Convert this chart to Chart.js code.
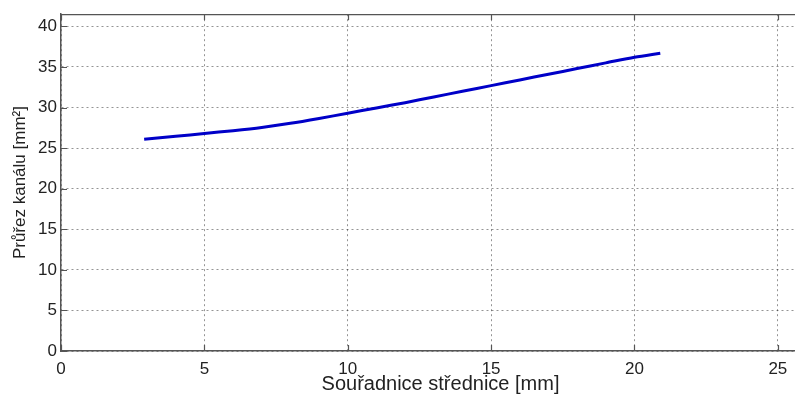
<!DOCTYPE html>
<html>
<head>
<meta charset="utf-8">
<script src="https://cdn.jsdelivr.net/npm/chart.js@4.4.1/dist/chart.umd.min.js"></script>
<style>
    html, body { margin: 0; padding: 0; background: #fff; overflow: hidden; }
    /* the axes box runs past the right edge of the picture, like in the original */
    #wrap { width: 795px; height: 396px; overflow: hidden; }
</style>
</head>
<body>
<div id="wrap"><canvas id="chart-canvas" width="820" height="396"></canvas></div>
<script>
// data
const souradnice = [2.9, 4, 5, 6, 7, 8, 9, 10, 11, 12, 13, 14, 15, 16, 17, 18, 19, 20, 20.9];
const prurez = [26.1, 26.45, 26.8, 27.15, 27.55, 28.05, 28.65, 29.3, 29.95, 30.6, 31.3, 32.0, 32.7, 33.4, 34.1, 34.8, 35.5, 36.2, 36.7];
const xTicks = [0, 5, 10, 15, 20, 25];
const yTicks = [0, 5, 10, 15, 20, 25, 30, 35, 40];

const font = "'Liberation Sans', Arial, sans-serif";

// top frame line + inward tick marks (matlab look)
const frameTicks = {
    id: "frameTicks",
    afterDraw(chart) {
        const ctx = chart.ctx;
        const a = chart.chartArea;
        const xs = chart.scales.x, ys = chart.scales.y;
        ctx.save();
        ctx.strokeStyle = "#555";
        ctx.lineWidth = 1.2;
        ctx.beginPath();
        ctx.moveTo(a.left, a.top + 0.5);
        ctx.lineTo(a.right, a.top + 0.5);
        xTicks.forEach(v => {
            const px = Math.round(xs.getPixelForValue(v)) + 0.5;
            ctx.moveTo(px, a.bottom); ctx.lineTo(px, a.bottom - 6);
            ctx.moveTo(px, a.top); ctx.lineTo(px, a.top + 6);
        });
        yTicks.forEach(v => {
            const py = Math.round(ys.getPixelForValue(v)) + 0.5;
            ctx.moveTo(a.left, py); ctx.lineTo(a.left + 6, py);
        });
        ctx.stroke();
        ctx.restore();
    }
};

const theChart = document.getElementById("chart-canvas").getContext("2d");
const points = souradnice.map((x, i) => ({ x: x, y: prurez[i] }));

new Chart(theChart, {
    type: "scatter",
    data: {
        datasets: [{
            data: points,
            showLine: true,
            borderColor: "#0000c8",
            borderWidth: 3,
            pointRadius: 0,
            tension: 0.3
        }]
    },
    options: {
        responsive: false,
        animation: false,
        layout: { padding: { left: 0, top: 11, right: 0, bottom: 0 } },
        plugins: { legend: { display: false }, tooltip: { enabled: false } },
        scales: {
            x: {
                type: "linear",
                min: 0,
                max: 26.47,
                afterFit: s => { s.height = 45; },
                afterBuildTicks: s => { s.ticks = xTicks.map(v => ({ value: v })); },
                ticks: {
                    autoSkip: false,
                    maxRotation: 0,
                    padding: 8,
                    color: "#222",
                    font: { family: font, size: 17 }
                },
                grid: { color: "rgba(0,0,0,0.42)", lineWidth: 1, drawTicks: false },
                border: { display: true, color: "#555", width: 1.5, dash: [2, 3] },
                title: {
                    display: true,
                    text: "Souřadnice střednice [mm]",
                    color: "#222",
                    font: { family: font, size: 20 },
                    padding: { top: 0, bottom: 0 }
                }
            },
            y: {
                min: 0,
                max: 41.5,
                afterFit: s => { s.width = 61; },
                afterBuildTicks: s => { s.ticks = yTicks.map(v => ({ value: v })); },
                ticks: {
                    padding: 4,
                    color: "#222",
                    font: { family: font, size: 17 }
                },
                grid: { color: "rgba(0,0,0,0.42)", lineWidth: 1, drawTicks: false },
                border: { display: true, color: "#555", width: 1.5, dash: [2, 3] },
                title: {
                    display: true,
                    text: "Průřez kanálu [mm²]",
                    color: "#222",
                    font: { family: font, size: 17 },
                    padding: { top: 10, bottom: 0 }
                }
            }
        }
    },
    plugins: [frameTicks]
});
</script>
</body>
</html>
